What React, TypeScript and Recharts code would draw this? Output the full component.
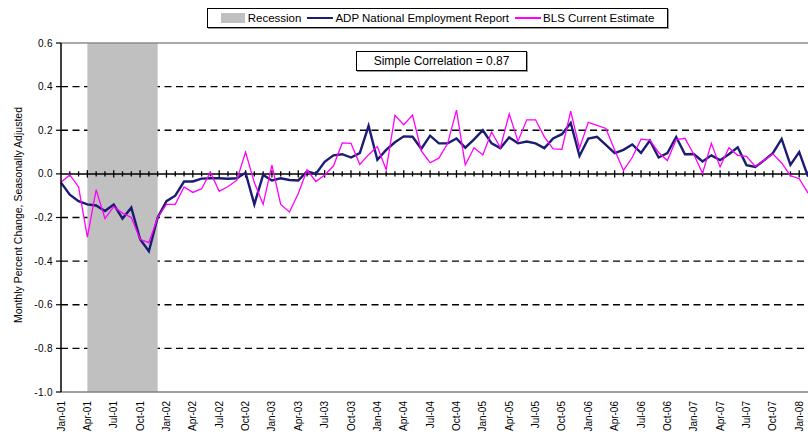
import React from "react";
import {
  ComposedChart,
  Line,
  XAxis,
  YAxis,
  CartesianGrid,
  ReferenceArea,
  ReferenceLine,
} from "recharts";

// ---------- data ----------
const MONTH_NAMES = ["Jan", "Feb", "Mar", "Apr", "May", "Jun", "Jul", "Aug", "Sep", "Oct", "Nov", "Dec"];
const YEARS = ["01", "02", "03", "04", "05", "06", "07", "08"];
const N_MONTHS = 86; // Jan-01 .. Feb-08
const CATEGORIES = YEARS.flatMap((y) => MONTH_NAMES.map((m) => `${m}-${y}`)).slice(0, N_MONTHS);

const ADP = [
  -0.04, -0.095, -0.125, -0.14, -0.145, -0.17, -0.14, -0.205, -0.155, -0.3, -0.355, -0.2,
  -0.125, -0.1, -0.035, -0.035, -0.022, -0.02, -0.02, -0.022, -0.02, 0.005, -0.14, -0.005,
  -0.03, -0.02, -0.028, -0.03, 0.012, 0.0, 0.055, 0.085, 0.09, 0.075, 0.095, 0.22,
  0.065, 0.11, 0.145, 0.172, 0.17, 0.115, 0.175, 0.14, 0.14, 0.162, 0.12, 0.158,
  0.2, 0.14, 0.118, 0.167, 0.14, 0.148, 0.14, 0.118, 0.162, 0.182, 0.234, 0.082,
  0.162, 0.17, 0.133, 0.095, 0.11, 0.135, 0.096, 0.153, 0.075, 0.095, 0.169, 0.09,
  0.091, 0.057, 0.085, 0.063, 0.09, 0.122, 0.04, 0.032, 0.062, 0.095, 0.16, 0.041,
  0.1, -0.012,
];

const BLS = [
  -0.038, -0.005, -0.06, -0.29, -0.073, -0.205, -0.15, -0.18, -0.2, -0.3, -0.315, -0.2,
  -0.14, -0.14, -0.06, -0.085, -0.068, 0.008, -0.08, -0.058, -0.03, 0.1, -0.04, -0.14,
  0.04, -0.14, -0.175, -0.09, 0.018, -0.035, -0.005, 0.036, 0.142, 0.14, 0.043, 0.088,
  0.125, 0.019, 0.268, 0.225, 0.27, 0.105, 0.051, 0.072, 0.14, 0.292, 0.041, 0.12,
  0.087, 0.192, 0.12, 0.275, 0.15, 0.248, 0.248, 0.17, 0.115, 0.113, 0.288, 0.118,
  0.236, 0.222, 0.208, 0.11, 0.016, 0.075, 0.159, 0.155, 0.098, 0.061, 0.157, 0.163,
  0.09, 0.002, 0.14, 0.032, 0.12, 0.085, 0.08, 0.034, 0.062, 0.092, 0.05, -0.008,
  -0.022, -0.088,
];

const Y_TICKS = [-1.0, -0.8, -0.6, -0.4, -0.2, 0.0, 0.2, 0.4, 0.6];
const GRID_VALUES = [-0.8, -0.6, -0.4, -0.2, 0.2, 0.4];
// recession shading: from the start of Apr-01 up to the start of Dec-01 (Apr-01 .. Nov-01 inclusive)
const RECESSION = ["Apr-01", "Dec-01"];
const SERIES_NAMES = ["Recession", "ADP National Employment Report", "BLS Current Estimate"];
const CORRELATION_TEXT = "Simple Correlation = 0.87";
const Y_LABEL = "Monthly Percent Change, Seasonally Adjusted";

const data = CATEGORIES.map((month, i) => ({ month, adp: ADP[i], bls: BLS[i] }));

// ---------- layout / style ----------
const FONT = "'Liberation Sans', Arial, Helvetica, sans-serif";
const CHART_W = 810;
const CHART_H = 438;
const MARGIN = { top: 43, right: 2, bottom: 0, left: 0 };
const Y_AXIS_W = 61;
const X_AXIS_H = 46;
// half-lengths (in axis units) of the tick marks drawn across the zero line
const TICK_MAJOR = 0.017;
const TICK_MINOR = 0.012;

const NAVY = "#1c1c74";
const MAGENTA = "#ff00ff";
const REC_GRAY = "#c0c0c0";

const XTick = (props: any) => {
  const { x, y, payload } = props;
  return (
    <text
      x={x}
      y={y}
      transform={`rotate(-90, ${x}, ${y})`}
      textAnchor="end"
      dy="0.35em"
      fontSize={10}
      fill="#000"
      fontFamily={FONT}
    >
      {payload.value}
    </text>
  );
};

export default function App() {
  return (
    <div
      style={{
        position: "absolute",
        left: 0,
        top: 0,
        width: 808,
        height: 438,
        overflow: "hidden",
        background: "#fff",
        fontFamily: FONT,
      }}
    >
      <ComposedChart width={CHART_W} height={CHART_H} data={data} margin={MARGIN}>
        <CartesianGrid
          vertical={false}
          horizontalValues={GRID_VALUES}
          stroke="#000"
          strokeWidth={1.3}
          strokeDasharray="7 4.5"
        />
        <XAxis
          dataKey="month"
          interval={2}
          height={X_AXIS_H}
          tickLine={false}
          tickSize={0}
          tickMargin={9}
          axisLine={{ stroke: "#808080", strokeWidth: 1.5 }}
          tick={<XTick />}
        />
        <YAxis
          width={Y_AXIS_W}
          domain={[-1, 0.6]}
          ticks={Y_TICKS}
          interval={0}
          tickFormatter={(v: number) => v.toFixed(1)}
          axisLine={{ stroke: "#000", strokeWidth: 1.5 }}
          tickLine={{ stroke: "#000", strokeWidth: 1.2 }}
          tickSize={5}
          tickMargin={3}
          tick={{ fontSize: 10, fill: "#000", fontFamily: FONT, letterSpacing: 0.4 }}
        />
        <ReferenceLine y={0.6} stroke="#8c8c8c" strokeWidth={1.5} />
        <ReferenceArea
          x1={RECESSION[0]}
          x2={RECESSION[1]}
          fill={REC_GRAY}
          fillOpacity={1}
          stroke="none"
        />
        <ReferenceLine y={0} stroke="#000" strokeWidth={1.5} />
        {CATEGORIES.map((cat, i) => {
          const h = i % 3 === 0 ? TICK_MAJOR : TICK_MINOR;
          return (
            <ReferenceLine
              key={`tick-${cat}`}
              position="start"
              segment={[
                { x: cat, y: h },
                { x: cat, y: -h },
              ]}
              stroke="#000"
              strokeWidth={1.3}
            />
          );
        })}
        <Line
          dataKey="adp"
          name={SERIES_NAMES[1]}
          stroke={NAVY}
          strokeWidth={2.4}
          dot={false}
          activeDot={false}
          isAnimationActive={false}
        />
        <Line
          dataKey="bls"
          name={SERIES_NAMES[2]}
          stroke={MAGENTA}
          strokeWidth={1.3}
          dot={false}
          activeDot={false}
          isAnimationActive={false}
        />
      </ComposedChart>

      {/* Legend */}
      <div
        style={{
          position: "absolute",
          left: 207,
          top: 8,
          width: 459,
          height: 18,
          border: "1px solid #000",
          boxShadow: "1px 1px 0 #9a9a9a",
          display: "flex",
          alignItems: "center",
          justifyContent: "center",
          fontSize: 11.5,
          color: "#000",
          whiteSpace: "nowrap",
          background: "#fff",
        }}
      >
        <span style={{ display: "inline-block", width: 24, height: 10, background: REC_GRAY, marginRight: 3 }} />
        <span style={{ marginRight: 6 }}>{SERIES_NAMES[0]}</span>
        <span style={{ display: "inline-block", width: 26, height: 2, background: NAVY, marginRight: 2 }} />
        <span style={{ marginRight: 6 }}>{SERIES_NAMES[1]}</span>
        <span style={{ display: "inline-block", width: 26, height: 2, background: MAGENTA, marginRight: 2 }} />
        <span>{SERIES_NAMES[2]}</span>
      </div>

      {/* Correlation box */}
      <div
        style={{
          position: "absolute",
          left: 356,
          top: 51,
          width: 169,
          height: 18,
          border: "1px solid #000",
          boxShadow: "1px 1px 0 #9a9a9a",
          display: "flex",
          alignItems: "center",
          justifyContent: "center",
          fontSize: 12,
          color: "#000",
          background: "#fff",
          whiteSpace: "nowrap",
        }}
      >
        {CORRELATION_TEXT}
      </div>

      {/* Y axis title */}
      <div
        style={{
          position: "absolute",
          left: 18,
          top: 215,
          transform: "translate(-50%, -50%) rotate(-90deg)",
          fontSize: 10.5,
          color: "#000",
          whiteSpace: "nowrap",
        }}
      >
        {Y_LABEL}
      </div>
    </div>
  );
}
